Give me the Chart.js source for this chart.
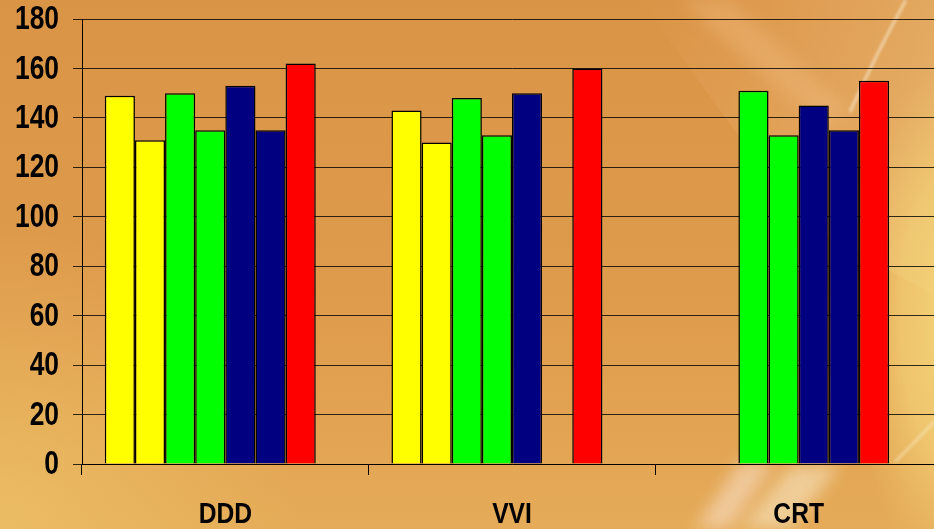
<!DOCTYPE html>
<html>
<head>
<meta charset="utf-8">
<script src="https://cdn.jsdelivr.net/npm/chart.js@4/dist/chart.umd.min.js"></script>
<style>
  html, body { margin: 0; padding: 0; width: 934px; height: 529px; overflow: hidden; }
  #wrap { position: absolute; left: 0; top: 0; width: 942px; height: 529px; }
</style>
</head>
<body>
<div id="wrap"><canvas id="barChart" width="942" height="529"></canvas></div>
<script>
// groupes et séries (la 8e série n'a pas de valeurs)
const categories = ['DDD', 'VVI', 'CRT'];
const seriesYellow1 = [149, 143, null];
const seriesYellow2 = [131, 130, null];
const seriesGreen1 = [150, 148, 151];
const seriesGreen2 = [135, 133, 133];
const seriesNavy1 = [153, 150, 145];
const seriesNavy2 = [135, null, 135];
const seriesRed = [162, 160, 155];
const seriesEmpty = [null, null, null];

const allSeries = [seriesYellow1, seriesYellow2, seriesGreen1, seriesGreen2, seriesNavy1, seriesNavy2, seriesRed, seriesEmpty];
const seriesColors = ['#FFFF00', '#FFFF00', '#00FF00', '#00FF00', '#000080', '#000080', '#FF0000', '#FFFFFF'];

const yMin = 0;
const yMax = 180;
const yStep = 20;

// fond orange avec reflets clairs
const backgroundPlugin = {
    id: 'orangeBackground',
    beforeDraw(chart) {
        const ctx = chart.ctx;
        const w = chart.width, h = chart.height;
        ctx.save();
        let g = ctx.createLinearGradient(0, 0, 0, h);
        g.addColorStop(0, '#DA9446');
        g.addColorStop(0.6, '#DF9C4D');
        g.addColorStop(1, '#E5AB58');
        ctx.fillStyle = g;
        ctx.fillRect(0, 0, w, h);

        // lueur claire en bas à gauche
        g = ctx.createRadialGradient(0, h, 0, 0, h, 300);
        g.addColorStop(0, 'rgba(238,196,104,0.7)');
        g.addColorStop(1, 'rgba(238,196,104,0)');
        ctx.fillStyle = g;
        ctx.fillRect(0, 0, w, h);

        // zone claire en haut à droite
        g = ctx.createLinearGradient(640, 0, 937, 100);
        g.addColorStop(0, 'rgba(232,172,105,0)');
        g.addColorStop(0.6, 'rgba(234,178,112,0.4)');
        g.addColorStop(1, 'rgba(236,192,124,0.55)');
        ctx.fillStyle = g;
        ctx.beginPath();
        ctx.moveTo(640, 0); ctx.lineTo(942, 0); ctx.lineTo(942, 300); ctx.lineTo(800, 220);
        ctx.closePath();
        ctx.fill();

        // bord droit jaune
        ctx.save();
        ctx.translate(960, 320);
        ctx.scale(1, 2.4);
        g = ctx.createRadialGradient(0, 0, 0, 0, 0, 110);
        g.addColorStop(0, 'rgba(245,214,124,1)');
        g.addColorStop(0.55, 'rgba(243,208,118,0.75)');
        g.addColorStop(1, 'rgba(240,200,110,0)');
        ctx.fillStyle = g;
        ctx.fillRect(-200, -150, 200, 300);
        ctx.restore();

        // traînées claires
        ctx.filter = 'blur(8px)';
        ctx.fillStyle = 'rgba(248,222,200,0.6)';
        ctx.beginPath();
        ctx.moveTo(695, 529); ctx.lineTo(740, 462); ctx.lineTo(775, 462); ctx.lineTo(730, 529);
        ctx.closePath();
        ctx.fill();
        ctx.fillStyle = 'rgba(250,235,205,0.55)';
        ctx.beginPath();
        ctx.moveTo(740, 529); ctx.lineTo(790, 466); ctx.lineTo(840, 466); ctx.lineTo(790, 529);
        ctx.closePath();
        ctx.fill();
        ctx.fillStyle = 'rgba(244,196,140,0.3)';
        ctx.beginPath();
        ctx.moveTo(680, 0); ctx.lineTo(730, 0); ctx.lineTo(850, 110); ctx.lineTo(825, 130);
        ctx.closePath();
        ctx.fill();
        ctx.filter = 'blur(1.5px)';
        ctx.strokeStyle = 'rgba(255,248,228,0.65)';
        ctx.lineWidth = 2.5;
        ctx.beginPath();
        ctx.moveTo(906, 0);
        ctx.quadraticCurveTo(878, 50, 850, 112);
        ctx.stroke();
        ctx.strokeStyle = 'rgba(255,248,230,0.5)';
        ctx.beginPath();
        ctx.moveTo(895, 462);
        ctx.lineTo(942, 414);
        ctx.stroke();
        ctx.restore();
    }
};

// étiquettes d'axes en gras, resserrées horizontalement
const axisLabelPlugin = {
    id: 'narrowLabels',
    afterDraw(chart) {
        const ctx = chart.ctx;
        const xScale = chart.scales.x;
        const yScale = chart.scales.y;
        const squeeze = 0.8;
        ctx.save();
        ctx.fillStyle = '#000000';

        ctx.font = "bold 33px 'Liberation Sans', Arial, sans-serif";
        ctx.textAlign = 'right';
        ctx.textBaseline = 'middle';
        for (const tick of yScale.ticks) {
            const y = yScale.getPixelForValue(tick.value);
            ctx.save();
            ctx.translate(yScale.right - 23, y + 1);
            ctx.scale(squeeze, 1);
            ctx.fillText(String(tick.value), 0, 0);
            ctx.restore();
        }

        ctx.font = "bold 29px 'Liberation Sans', Arial, sans-serif";
        ctx.textAlign = 'center';
        ctx.textBaseline = 'alphabetic';
        categories.forEach((label, i) => {
            const x = xScale.getPixelForValue(i);
            ctx.save();
            ctx.translate(x, xScale.top + 59);
            ctx.scale(squeeze + 0.05, 1);
            ctx.fillText(label, 0, 0);
            ctx.restore();
        });
        ctx.restore();
    }
};

const datasets = allSeries.map((values, i) => ({
    data: values,
    backgroundColor: seriesColors[i],
    borderColor: '#000000',
    borderWidth: 1.5,
    categoryPercentage: 0.841,
    barPercentage: 1.0
}));

let ctx = document.getElementById('barChart').getContext('2d');
let chart = new Chart(ctx, {
    type: 'bar',
    data: { labels: categories, datasets: datasets },
    plugins: [backgroundPlugin, axisLabelPlugin],
    options: {
        responsive: false,
        animation: false,
        layout: { padding: { top: 19, left: 0, right: 0, bottom: 0 } },
        plugins: {
            legend: { display: false },
            tooltip: { enabled: false }
        },
        scales: {
            x: {
                grid: { drawOnChartArea: false, drawTicks: true, tickLength: 11, color: '#000000', offset: true },
                border: { color: '#000000', width: 1 },
                ticks: { display: false },
                afterFit: (scale) => { scale.height = 65; }
            },
            y: {
                min: yMin,
                max: yMax,
                grid: { color: 'rgba(0,0,0,0.8)', lineWidth: 1, tickLength: 9 },
                border: { color: '#000000', width: 1 },
                ticks: { stepSize: yStep, display: false },
                afterFit: (scale) => { scale.width = 82; }
            }
        }
    }
});
</script>
</body>
</html>
